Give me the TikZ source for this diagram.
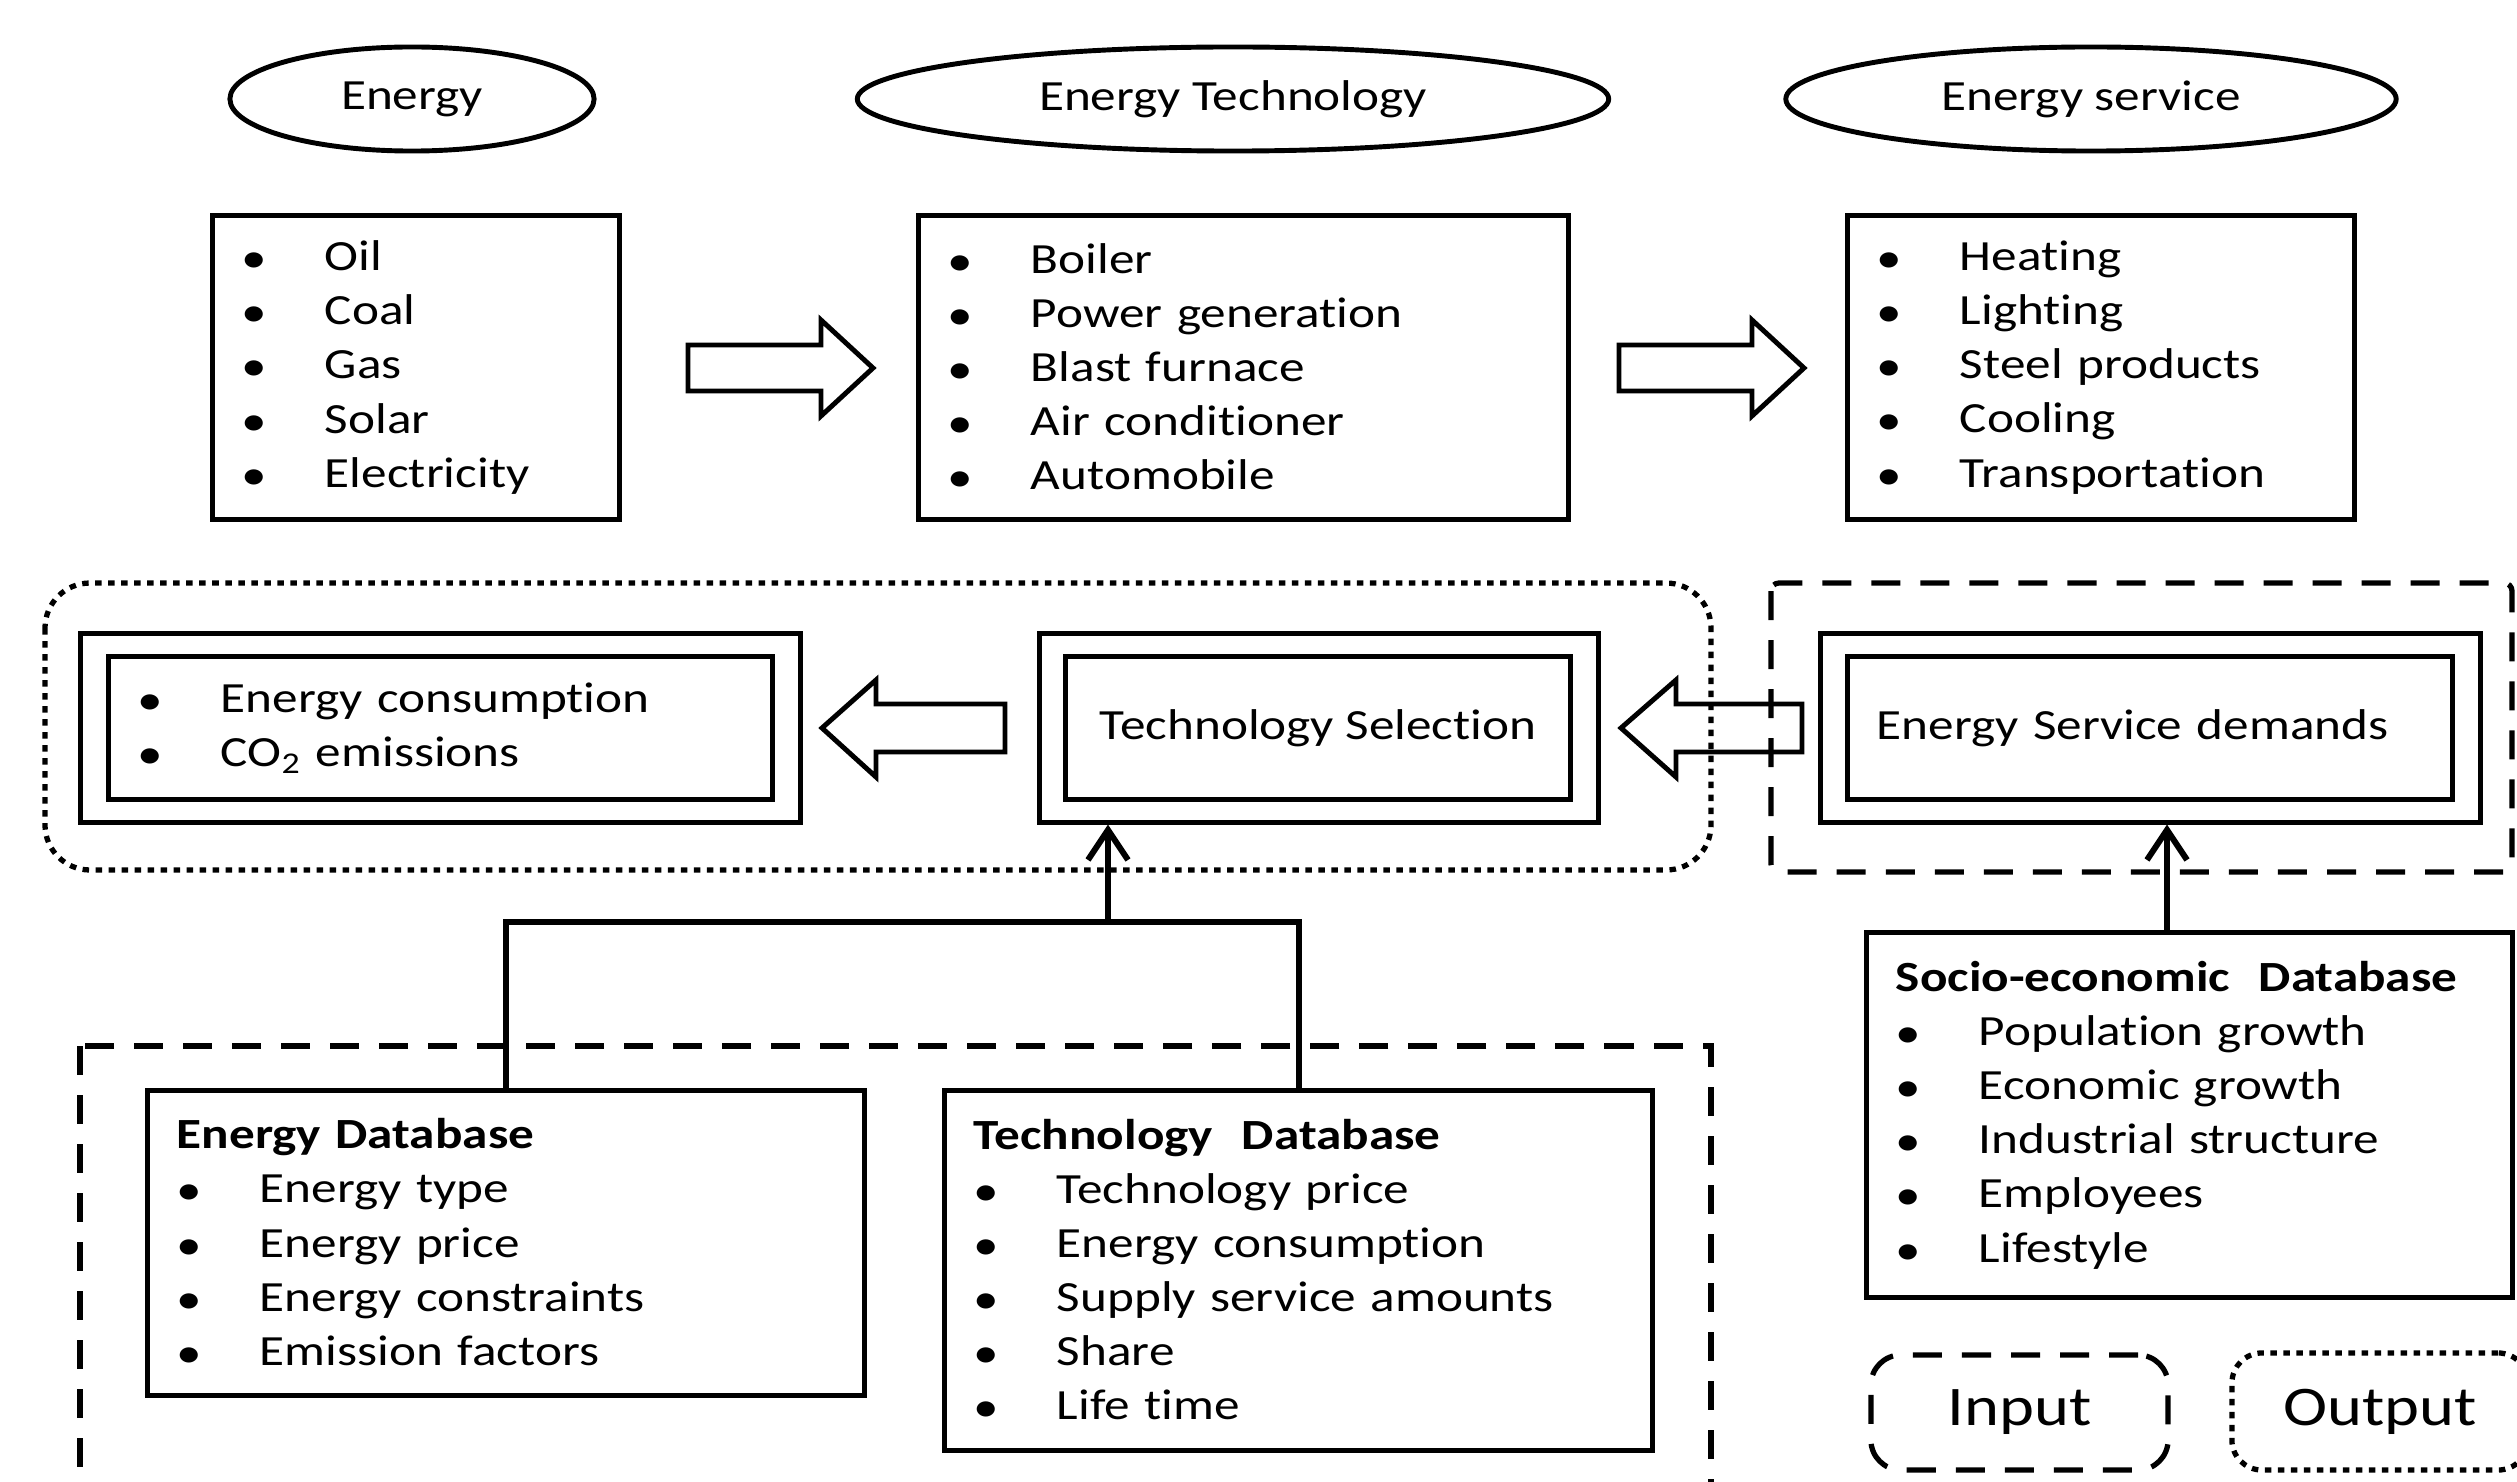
\documentclass[tikz,border=0pt]{standalone}
\usepackage{fontspec}
\setmainfont{Carlito}[FakeStretch=1.19,Ligatures=NoCommon]
\usetikzlibrary{arrows.meta,shapes.geometric}
\newcommand\itm[1]{\makebox[0.83cm][l]{\raisebox{-0.02cm}{\textbullet}}#1}
\begin{document}
\begin{tikzpicture}[x=0.01cm,y=-0.01cm,
  body/.style={font=\fontsize{12.24}{15.4}\selectfont},
  ell/.style={draw,ellipse,line width=1.4pt,inner sep=0pt,body},
  lbox/.style={draw,line width=1.4pt,inner xsep=0.29cm,inner ysep=0pt,align=left,body},
  frame/.style={draw,line width=1.4pt,inner sep=0pt},
  barrow/.style={draw,line width=1.4pt,line join=miter},
  conn/.style={line width=1.7pt},
  arr/.style={conn,-{Straight Barb[length=0.3cm,width=0.4cm,line width=1.7pt]}},
  indash/.style={draw,line width=1.5pt,dash pattern=on 0.29cm off 0.2cm},
  outdot/.style={draw,line width=1.5pt,dash pattern=on 0.065cm off 0.065cm},
  legend/.style={font=\fontsize{15.9}{19}\selectfont,inner sep=0pt}
]
\useasboundingbox (0,0) rectangle (2517,1482);
\clip (0,0) rectangle (2517,1482);

% top ellipses
\node[ell,minimum width=3.64cm,minimum height=1.04cm] (e1) at (412,99) {Energy};
\node[ell,minimum width=7.51cm,minimum height=1.04cm] (e2) at (1233,99) {Energy Technology};
\node[ell,minimum width=6.10cm,minimum height=1.04cm] (e3) at (2091,99) {Energy service};

% top lists
\node[lbox,minimum height=3.03cm,text width=3.48cm] (eb) at (416,367.5)
  {\itm{Oil}\\\itm{Coal}\\\itm{Gas}\\\itm{Solar}\\\itm{Electricity}};
\node[lbox,minimum height=3.03cm,text width=5.91cm] (tb) at (1243.5,367.5)
  {\itm{Boiler}\\\itm{Power generation}\\\itm{Blast furnace}\\\itm{Air conditioner}\\\itm{Automobile}};
\node[lbox,minimum height=3.03cm,text width=4.48cm] (sb) at (2101,367.5)
  {\itm{Heating}\\\itm{Lighting}\\\itm{Steel products}\\\itm{Cooling}\\\itm{Transportation}};

% top block arrows
\draw[barrow] (688,345) -- (821,345) -- (821,320) -- (873,368) -- (821,416) -- (821,391) -- (688,391) -- cycle;
\draw[barrow] (1619,345) -- (1752,345) -- (1752,320) -- (1804,368) -- (1752,416) -- (1752,391) -- (1619,391) -- cycle;

% group frames row 2
\draw[outdot,rounded corners=0.45cm] (45,583) rectangle (1711,870);
\draw[indash,rounded corners=0.08cm] (1771,583) rectangle (2512,872);

% output double box
\node[frame,minimum width=7.19cm,minimum height=1.88cm] (oo) at (440.5,728) {};
\node[lbox,minimum height=1.42cm,text width=6.05cm] (oi) at (440.5,728)
  {\itm{Energy consumption}\\\itm{CO\textsubscript{2} emissions}};

% technology selection
\node[frame,minimum width=5.58cm,minimum height=1.88cm] (tso) at (1319,728) {};
\node[frame,body,minimum width=5.04cm,minimum height=1.42cm] (tsi) at (1318,728) {Technology Selection};

% energy service demands
\node[frame,minimum width=6.59cm,minimum height=1.88cm] (eso) at (2150.5,728) {};
\node[lbox,minimum height=1.42cm,text width=5.46cm] (esi) at (2150,728) {Energy Service demands};

% row 2 block arrows
\draw[barrow] (822,728) -- (876,680) -- (876,704) -- (1005,704) -- (1005,752) -- (876,752) -- (876,777) -- cycle;
\draw[barrow] (1621,728) -- (1676,680) -- (1676,704) -- (1802,704) -- (1802,752) -- (1676,752) -- (1676,777) -- cycle;

% bottom input frame
\draw[indash] (80,1046) rectangle (1711,1540);

% databases
\node[lbox,minimum height=3.04cm,text width=6.58cm] (edb) at (506,1243)
  {\textbf{Energy Database}\\\itm{Energy type}\\\itm{Energy price}\\\itm{Energy constraints}\\\itm{Emission factors}};
\node[lbox,minimum height=3.59cm,text width=6.49cm] (tdb) at (1298.5,1270.5)
  {\textbf{Technology\ \ Database}\\\itm{Technology price}\\\itm{Energy consumption}\\\itm{Supply service amounts}\\\itm{Share}\\\itm{Life time}};
\node[lbox,minimum height=3.64cm,text width=5.87cm] (sdb) at (2189.5,1115)
  {\textbf{Socio-economic\ \ Database}\\\itm{Population growth}\\\itm{Economic growth}\\\itm{Industrial structure}\\\itm{Employees}\\\itm{Lifestyle}};

% connectors
\coordinate (j) at (1108,922);
\draw[conn] (edb.north) |- (j) -| (tdb.north);
\draw[arr] (j) -- (j |- tso.south);
\coordinate (sx) at (2167,0);
\draw[arr] (sdb.north -| sx) -- (eso.south -| sx);

% legend
\node[indash,legend,rounded corners=0.3cm,minimum width=2.97cm,minimum height=1.15cm] (inp) at (2019.5,1412.5) {Input};
\node[outdot,legend,rounded corners=0.3cm,minimum width=2.96cm,minimum height=1.17cm] (outp) at (2380,1411.5) {Output};
\end{tikzpicture}
\end{document}
